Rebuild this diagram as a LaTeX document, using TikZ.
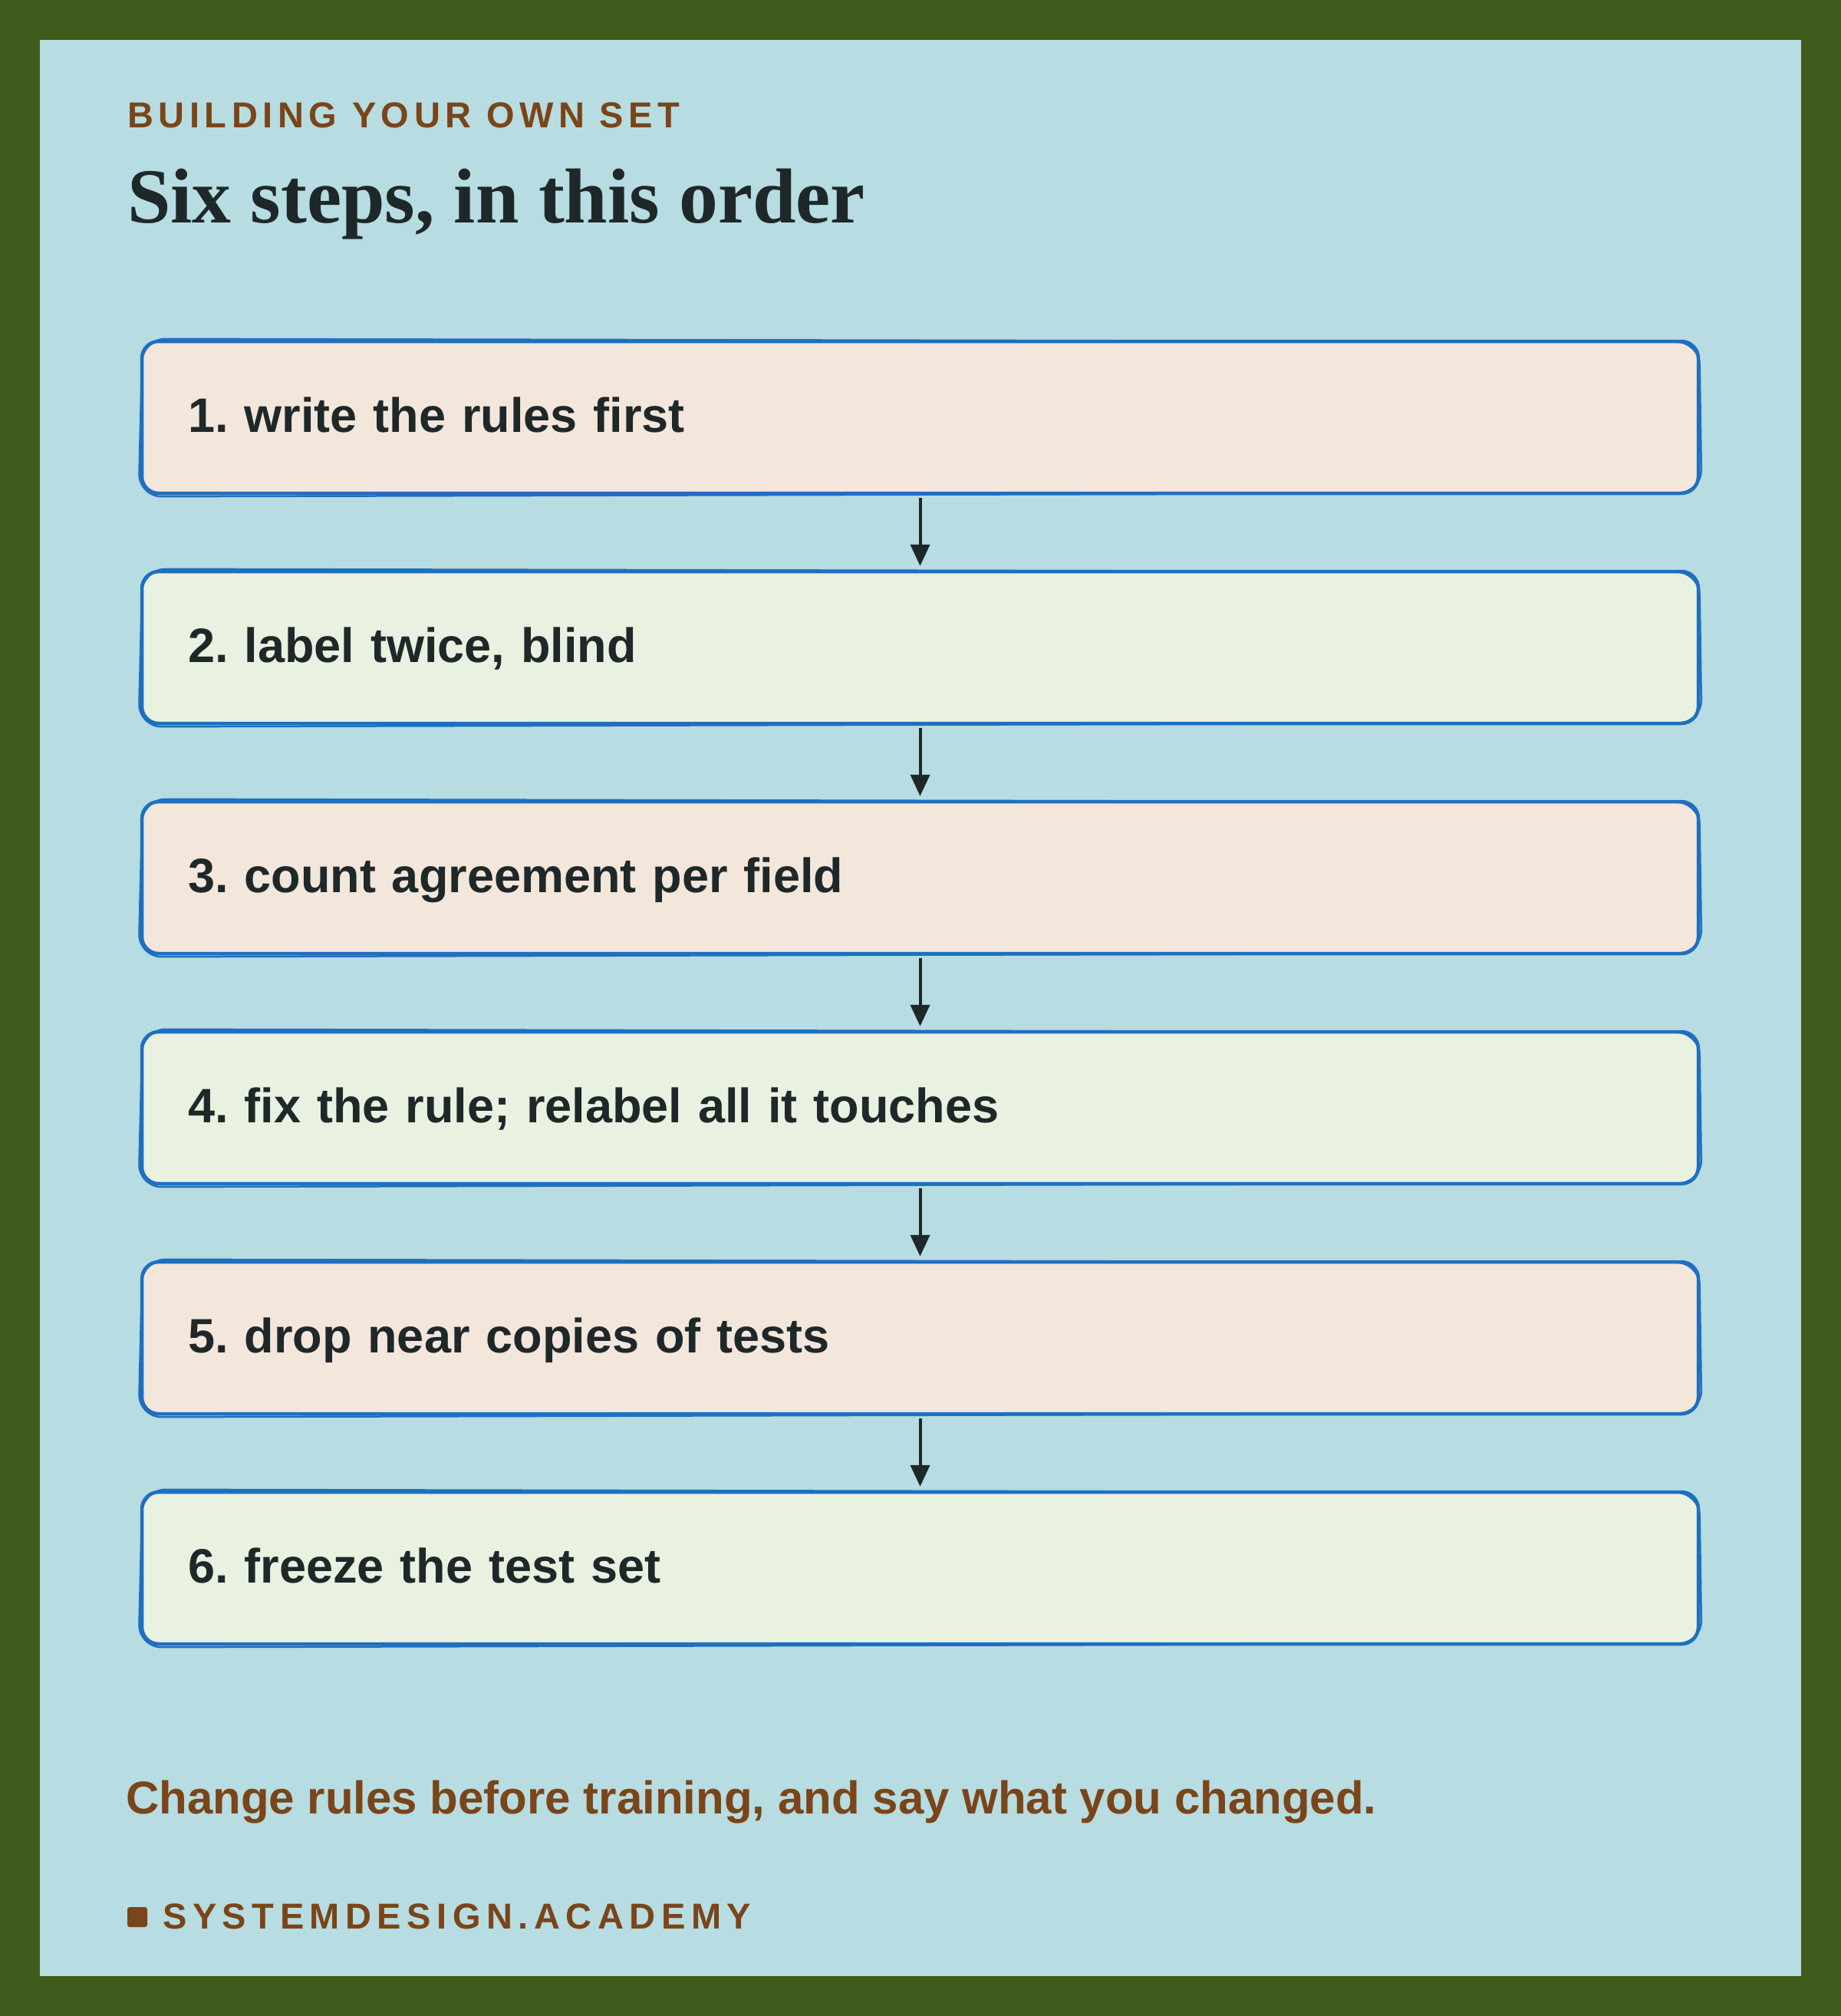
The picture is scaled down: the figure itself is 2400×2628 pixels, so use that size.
\documentclass[tikz,border=0pt]{standalone}
\usepackage{fontspec}
\usetikzlibrary{arrows.meta,calc}
\setmainfont{Liberation Sans}
\newfontfamily\serifbold{Liberation Serif}
\newfontfamily\kickerfont{Liberation Sans}[LetterSpace=14]
\newfontfamily\brandfont{Liberation Sans}[LetterSpace=16]
\definecolor{frame}{HTML}{3F5C1C}
\definecolor{panel}{HTML}{B7DCE1}
\definecolor{peach}{HTML}{F3E6DB}
\definecolor{mint}{HTML}{E9F2E0}
\definecolor{edge}{HTML}{1F6FC0}
\definecolor{ink}{HTML}{1F2829}
\definecolor{brown}{HTML}{7A4519}
\newcommand{\skbox}[1]{%
  \draw[skline] ($(#1.north west)+(3,-1)$) -- ($(#1.north east)+(-1,3)$) -- ($(#1.south east)+(2,-3)$) -- ($(#1.south west)+(-2,2)$) -- cycle;}
\frenchspacing
\begin{document}
\begin{tikzpicture}[x=1pt,y=-1pt,
  stepbox/.style={draw=edge, line width=4.5pt, rounded corners=22pt,
    minimum width=2029pt, minimum height=198pt, text width=1909pt,
    inner xsep=60pt, inner ysep=0pt, align=left,
    text height=50pt, text depth=12pt,
    font=\frenchspacing\fontsize{63}{70}\selectfont\bfseries, text=ink},
  skline/.style={draw=edge, line width=2.5pt, rounded corners=30pt},
  arr/.style={draw=ink, line width=4pt, -{Triangle[width=25pt,length=28pt]},
    shorten >=5pt, shorten <=4pt},
  plain/.style={anchor=base west, inner sep=0pt}]
\useasboundingbox (0,0) rectangle (2400,2628);
\fill[frame] (0,0) rectangle (2400,2628);
\fill[panel] (52,52) rectangle (2348,2576);

\node[plain, font=\kickerfont\bfseries\fontsize{47}{52}\selectfont, text=brown] (kick) at (166,166) {BUILDING YOUR OWN SET};
\node[plain, font=\serifbold\bfseries\fontsize{101.5}{110}\selectfont, text=ink] (title) at (166,290) {Six steps, in this order};

\node[stepbox, fill=peach] (s1) at (1199.5,544) {1. write the rules first};
\node[stepbox, fill=mint]  (s2) at (1199.5,844) {2. label twice, blind};
\node[stepbox, fill=peach] (s3) at (1199.5,1144) {3. count agreement per field};
\node[stepbox, fill=mint]  (s4) at (1199.5,1444) {4. fix the rule; relabel all it touches};
\node[stepbox, fill=peach] (s5) at (1199.5,1744) {5. drop near copies of tests};
\node[stepbox, fill=mint]  (s6) at (1199.5,2044) {6. freeze the test set};
\foreach \n in {s1,s2,s3,s4,s5,s6} {\skbox{\n}}

\draw[arr] (s1.south) -- (s2.north);
\draw[arr] (s2.south) -- (s3.north);
\draw[arr] (s3.south) -- (s4.north);
\draw[arr] (s4.south) -- (s5.north);
\draw[arr] (s5.south) -- (s6.north);

\node[plain, font=\bfseries\fontsize{60}{66}\selectfont, text=brown] (note) at (164,2364) {Change rules before training, and say what you changed.};
\node[fill=brown, minimum size=26pt, inner sep=0pt, rounded corners=3pt] (sq) at (179,2499) {};
\node[plain, font=\brandfont\bfseries\fontsize{47}{52}\selectfont, text=brown] (brand) at (212,2514) {SYSTEMDESIGN.ACADEMY};
\end{tikzpicture}
\end{document}
